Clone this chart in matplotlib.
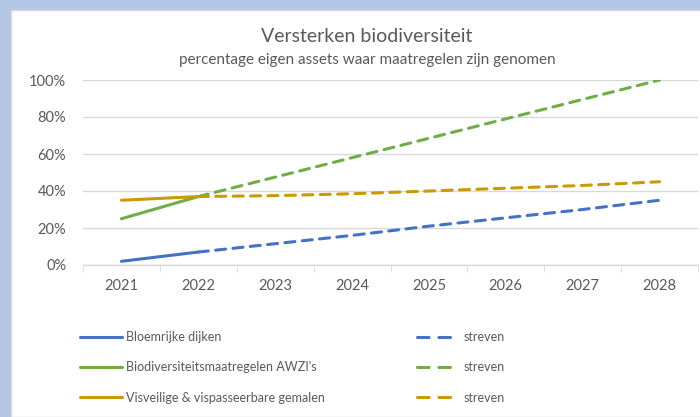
import matplotlib.pyplot as plt
from matplotlib.lines import Line2D
from matplotlib.patches import Rectangle
from matplotlib.ticker import PercentFormatter

plt.rcParams['font.family'] = ['Lato', 'DejaVu Sans']

years = [2021, 2022, 2023, 2024, 2025, 2026, 2027, 2028]

# actual values (2021-2022)
actual_years = [2021, 2022]
bloemrijke = [2, 7]
awzi = [25, 37]
gemalen = [35, 37]

# target ("streven") values (2022-2028)
target_years = [2022, 2023, 2024, 2025, 2026, 2027, 2028]
bloemrijke_streven = [7, 11.5, 16, 21, 25.5, 30, 35]
awzi_streven = [37, 47.5, 58, 68.5, 79, 89.5, 100]
gemalen_streven = [37, 37.5, 38.5, 40, 41.5, 43, 45]

labels = ["Bloemrijke dijken", "Biodiversiteitsmaatregelen AWZI's",
          "Visveilige & vispasseerbare gemalen"]
colors = ['#4472C4', '#70AD47', '#C99A06']
text_col = '#595959'
grid_col = '#D9D9D9'

W, H = 700, 417
fig = plt.figure(figsize=(W / 100, H / 100), dpi=100, facecolor='#B4C7E7')

# white chart panel
fig.patches.append(Rectangle((11 / W, 0), 1, 1 - 10 / H, transform=fig.transFigure,
                             facecolor='white', edgecolor=grid_col, lw=1, zorder=-10))

ax = fig.add_axes([83 / W, 1 - 265 / H, 615 / W, 185 / H])
ax.set_facecolor('none')

handles_act, handles_tgt = [], []
for vals, tvals, c, lab in zip([bloemrijke, awzi, gemalen],
                               [bloemrijke_streven, awzi_streven, gemalen_streven],
                               colors, labels):
    h1, = ax.plot(actual_years, vals, color=c, lw=2.2, solid_capstyle='round', label=lab)
    ax.plot(target_years, tvals, color=c, lw=2.2, linestyle=(0, (3.3, 2.4)),
            dash_capstyle='round')
    handles_act.append(h1)
    handles_tgt.append(Line2D([], [], color=c, lw=2.2, linestyle=(0, (3.8, 3.2)),
                              dash_capstyle='round', label='streven'))

ax.set_xlim(2020.5, 2028.5)
ax.set_ylim(0, 100)
ax.set_yticks(range(0, 101, 20))
ax.yaxis.set_major_formatter(PercentFormatter(decimals=0))
ax.set_xticks(years)
ax.set_xticks([y + 0.5 for y in [2020] + years], minor=True)
ax.tick_params(axis='x', which='major', length=0, pad=10, labelcolor=text_col, labelsize=10.5)
ax.tick_params(axis='x', which='minor', length=5, color=grid_col, direction='out')
ax.tick_params(axis='y', length=0, pad=12, labelcolor=text_col, labelsize=10.5)
ax.grid(axis='y', color=grid_col, lw=1)
ax.set_axisbelow(True)
for s in ['top', 'right', 'left']:
    ax.spines[s].set_visible(False)
ax.spines['bottom'].set_color(grid_col)
ax.spines['bottom'].set_linewidth(1)

cx = 367 / W
fig.text(cx, 1 - 37 / H, 'Versterken biodiversiteit', ha='center', va='center',
         fontsize=14, color=text_col)
fig.text(cx, 1 - 60 / H, 'percentage eigen assets waar maatregelen zijn genomen',
         ha='center', va='center', fontsize=11, color=text_col)

leg1 = fig.legend(handles=handles_act, loc='upper left', bbox_to_anchor=(69 / W, 1 - 320 / H),
                  frameon=False, fontsize=9, labelcolor=text_col, handlelength=3.3,
                  handletextpad=0.4, labelspacing=1.45)
leg2 = fig.legend(handles=handles_tgt, loc='upper left', bbox_to_anchor=(406 / W, 1 - 320 / H),
                  frameon=False, fontsize=9, labelcolor=text_col, handlelength=2.7,
                  handletextpad=1.0, labelspacing=1.45)

fig.savefig('out.png', dpi=100, facecolor=fig.get_facecolor())
